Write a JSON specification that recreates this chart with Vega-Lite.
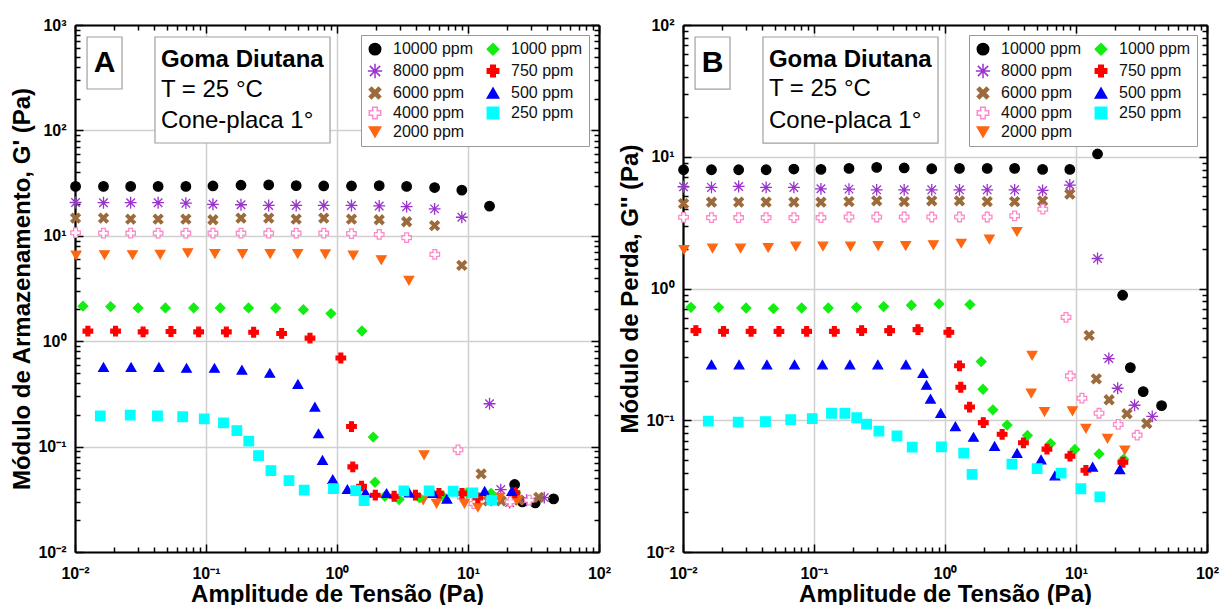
{
  "$schema": "https://vega.github.io/schema/vega-lite/v6.json",
  "background": "white",
  "padding": {"left": 10, "top": 17, "right": 5, "bottom": 0},
  "spacing": 7,
  "datasets": {
    "pts": [
      {"series":"10000 ppm","stress":0.0101,"Gp":29.4,"Gpp":7.97},
      {"series":"10000 ppm","stress":0.0165,"Gp":29.4,"Gpp":7.97},
      {"series":"10000 ppm","stress":0.0266,"Gp":29.4,"Gpp":7.97},
      {"series":"10000 ppm","stress":0.0431,"Gp":29.4,"Gpp":7.97},
      {"series":"10000 ppm","stress":0.0702,"Gp":29.4,"Gpp":8.07},
      {"series":"10000 ppm","stress":0.113,"Gp":29.7,"Gpp":8.02},
      {"series":"10000 ppm","stress":0.185,"Gp":30.2,"Gpp":8.16},
      {"series":"10000 ppm","stress":0.301,"Gp":30.4,"Gpp":8.30},
      {"series":"10000 ppm","stress":0.488,"Gp":29.9,"Gpp":8.22},
      {"series":"10000 ppm","stress":0.792,"Gp":29.7,"Gpp":8.11},
      {"series":"10000 ppm","stress":1.29,"Gp":29.7,"Gpp":8.16},
      {"series":"10000 ppm","stress":2.10,"Gp":29.9,"Gpp":8.16},
      {"series":"10000 ppm","stress":3.40,"Gp":29.4,"Gpp":8.16},
      {"series":"10000 ppm","stress":5.56,"Gp":28.7,"Gpp":8.02},
      {"series":"10000 ppm","stress":8.97,"Gp":27.1,"Gpp":8.02},
      {"series":"10000 ppm","stress":14.6,"Gp":19.1,"Gpp":10.5},
      {"series":"10000 ppm","stress":22.7,"Gp":0.0437,"Gpp":0.889},
      {"series":"10000 ppm","stress":26.0,"Gp":0.0299,"Gpp":0.251},
      {"series":"10000 ppm","stress":32.6,"Gp":0.0292,"Gpp":0.165},
      {"series":"10000 ppm","stress":45.0,"Gp":0.0319,"Gpp":0.129},
      {"series":"8000 ppm","stress":0.0101,"Gp":20.7,"Gpp":5.92},
      {"series":"8000 ppm","stress":0.0165,"Gp":20.6,"Gpp":5.85},
      {"series":"8000 ppm","stress":0.0266,"Gp":20.6,"Gpp":5.95},
      {"series":"8000 ppm","stress":0.0431,"Gp":20.6,"Gpp":5.85},
      {"series":"8000 ppm","stress":0.0702,"Gp":20.4,"Gpp":5.85},
      {"series":"8000 ppm","stress":0.113,"Gp":19.9,"Gpp":5.71},
      {"series":"8000 ppm","stress":0.185,"Gp":19.7,"Gpp":5.68},
      {"series":"8000 ppm","stress":0.301,"Gp":19.4,"Gpp":5.61},
      {"series":"8000 ppm","stress":0.488,"Gp":19.4,"Gpp":5.61},
      {"series":"8000 ppm","stress":0.792,"Gp":19.4,"Gpp":5.61},
      {"series":"8000 ppm","stress":1.29,"Gp":19.4,"Gpp":5.61},
      {"series":"8000 ppm","stress":2.10,"Gp":19.2,"Gpp":5.61},
      {"series":"8000 ppm","stress":3.40,"Gp":18.9,"Gpp":5.61},
      {"series":"8000 ppm","stress":5.56,"Gp":18.0,"Gpp":5.55},
      {"series":"8000 ppm","stress":8.97,"Gp":15.0,"Gpp":6.10},
      {"series":"8000 ppm","stress":14.6,"Gp":0.255,"Gpp":1.69},
      {"series":"8000 ppm","stress":17.8,"Gp":0.0391,"Gpp":0.294},
      {"series":"8000 ppm","stress":20.8,"Gp":0.0294,"Gpp":0.175},
      {"series":"8000 ppm","stress":28.0,"Gp":0.031,"Gpp":0.130},
      {"series":"8000 ppm","stress":38.2,"Gp":0.0328,"Gpp":0.107},
      {"series":"6000 ppm","stress":0.0101,"Gp":14.7,"Gpp":4.41},
      {"series":"6000 ppm","stress":0.0165,"Gp":14.7,"Gpp":4.52},
      {"series":"6000 ppm","stress":0.0266,"Gp":14.4,"Gpp":4.52},
      {"series":"6000 ppm","stress":0.0431,"Gp":14.4,"Gpp":4.52},
      {"series":"6000 ppm","stress":0.0702,"Gp":14.4,"Gpp":4.52},
      {"series":"6000 ppm","stress":0.113,"Gp":14.2,"Gpp":4.52},
      {"series":"6000 ppm","stress":0.185,"Gp":14.7,"Gpp":4.57},
      {"series":"6000 ppm","stress":0.301,"Gp":14.7,"Gpp":4.63},
      {"series":"6000 ppm","stress":0.488,"Gp":14.4,"Gpp":4.57},
      {"series":"6000 ppm","stress":0.792,"Gp":14.7,"Gpp":4.63},
      {"series":"6000 ppm","stress":1.29,"Gp":14.4,"Gpp":4.63},
      {"series":"6000 ppm","stress":2.10,"Gp":14.2,"Gpp":4.57},
      {"series":"6000 ppm","stress":3.40,"Gp":13.6,"Gpp":4.57},
      {"series":"6000 ppm","stress":5.56,"Gp":12.5,"Gpp":4.63},
      {"series":"6000 ppm","stress":8.97,"Gp":5.25,"Gpp":5.21},
      {"series":"6000 ppm","stress":12.6,"Gp":0.0551,"Gpp":0.441},
      {"series":"6000 ppm","stress":14.3,"Gp":0.0305,"Gpp":0.206},
      {"series":"6000 ppm","stress":17.9,"Gp":0.0305,"Gpp":0.143},
      {"series":"6000 ppm","stress":24.5,"Gp":0.031,"Gpp":0.112},
      {"series":"6000 ppm","stress":34.7,"Gp":0.033,"Gpp":0.0945},
      {"series":"4000 ppm","stress":0.0101,"Gp":10.7,"Gpp":3.47},
      {"series":"4000 ppm","stress":0.0165,"Gp":10.6,"Gpp":3.45},
      {"series":"4000 ppm","stress":0.0266,"Gp":10.6,"Gpp":3.45},
      {"series":"4000 ppm","stress":0.0431,"Gp":10.6,"Gpp":3.45},
      {"series":"4000 ppm","stress":0.0702,"Gp":10.6,"Gpp":3.45},
      {"series":"4000 ppm","stress":0.113,"Gp":10.6,"Gpp":3.45},
      {"series":"4000 ppm","stress":0.185,"Gp":10.6,"Gpp":3.49},
      {"series":"4000 ppm","stress":0.301,"Gp":10.6,"Gpp":3.49},
      {"series":"4000 ppm","stress":0.488,"Gp":10.6,"Gpp":3.49},
      {"series":"4000 ppm","stress":0.792,"Gp":10.6,"Gpp":3.49},
      {"series":"4000 ppm","stress":1.29,"Gp":10.5,"Gpp":3.49},
      {"series":"4000 ppm","stress":2.10,"Gp":10.3,"Gpp":3.49},
      {"series":"4000 ppm","stress":3.40,"Gp":9.6,"Gpp":3.56},
      {"series":"4000 ppm","stress":5.58,"Gp":6.66,"Gpp":4.00},
      {"series":"4000 ppm","stress":8.39,"Gp":0.0933,"Gpp":0.604},
      {"series":"4000 ppm","stress":9.05,"Gp":0.0333,"Gpp":0.217},
      {"series":"4000 ppm","stress":11.1,"Gp":0.0288,"Gpp":0.147},
      {"series":"4000 ppm","stress":15.0,"Gp":0.0315,"Gpp":0.113},
      {"series":"4000 ppm","stress":21.0,"Gp":0.030,"Gpp":0.0929},
      {"series":"4000 ppm","stress":29.3,"Gp":0.031,"Gpp":0.0771},
      {"series":"2000 ppm","stress":0.0102,"Gp":6.54,"Gpp":1.97},
      {"series":"2000 ppm","stress":0.0168,"Gp":6.59,"Gpp":2.02},
      {"series":"2000 ppm","stress":0.0275,"Gp":6.59,"Gpp":2.02},
      {"series":"2000 ppm","stress":0.0447,"Gp":6.65,"Gpp":2.04},
      {"series":"2000 ppm","stress":0.0726,"Gp":6.88,"Gpp":2.09},
      {"series":"2000 ppm","stress":0.117,"Gp":6.76,"Gpp":2.09},
      {"series":"2000 ppm","stress":0.190,"Gp":6.76,"Gpp":2.09},
      {"series":"2000 ppm","stress":0.309,"Gp":6.76,"Gpp":2.11},
      {"series":"2000 ppm","stress":0.501,"Gp":6.76,"Gpp":2.11},
      {"series":"2000 ppm","stress":0.815,"Gp":6.71,"Gpp":2.14},
      {"series":"2000 ppm","stress":1.33,"Gp":6.54,"Gpp":2.20},
      {"series":"2000 ppm","stress":2.18,"Gp":5.90,"Gpp":2.36},
      {"series":"2000 ppm","stress":3.54,"Gp":3.76,"Gpp":2.70},
      {"series":"2000 ppm","stress":4.62,"Gp":0.083,"Gpp":0.31},
      {"series":"2000 ppm","stress":4.55,"Gp":0.031,"Gpp":0.16},
      {"series":"2000 ppm","stress":5.75,"Gp":0.0288,"Gpp":0.116},
      {"series":"2000 ppm","stress":9.4,"Gp":0.0288,"Gpp":0.1175},
      {"series":"2000 ppm","stress":11.9,"Gp":0.0265,"Gpp":0.0866},
      {"series":"2000 ppm","stress":17.4,"Gp":0.0328,"Gpp":0.0727},
      {"series":"2000 ppm","stress":23.6,"Gp":0.031,"Gpp":0.0593},
      {"series":"1000 ppm","stress":0.0115,"Gp":2.15,"Gpp":0.720},
      {"series":"1000 ppm","stress":0.0187,"Gp":2.13,"Gpp":0.720},
      {"series":"1000 ppm","stress":0.0303,"Gp":2.07,"Gpp":0.711},
      {"series":"1000 ppm","stress":0.049,"Gp":2.07,"Gpp":0.704},
      {"series":"1000 ppm","stress":0.0805,"Gp":2.07,"Gpp":0.711},
      {"series":"1000 ppm","stress":0.1285,"Gp":2.07,"Gpp":0.711},
      {"series":"1000 ppm","stress":0.211,"Gp":2.07,"Gpp":0.720},
      {"series":"1000 ppm","stress":0.340,"Gp":2.06,"Gpp":0.729},
      {"series":"1000 ppm","stress":0.554,"Gp":1.99,"Gpp":0.746},
      {"series":"1000 ppm","stress":0.900,"Gp":1.83,"Gpp":0.764},
      {"series":"1000 ppm","stress":1.55,"Gp":1.25,"Gpp":0.755},
      {"series":"1000 ppm","stress":1.89,"Gp":0.123,"Gpp":0.279},
      {"series":"1000 ppm","stress":1.95,"Gp":0.0459,"Gpp":0.172},
      {"series":"1000 ppm","stress":2.32,"Gp":0.0338,"Gpp":0.120},
      {"series":"1000 ppm","stress":2.98,"Gp":0.0314,"Gpp":0.0919},
      {"series":"1000 ppm","stress":4.26,"Gp":0.0327,"Gpp":0.0766},
      {"series":"1000 ppm","stress":6.39,"Gp":0.034,"Gpp":0.0665},
      {"series":"1000 ppm","stress":9.8,"Gp":0.0364,"Gpp":0.0601},
      {"series":"1000 ppm","stress":15.0,"Gp":0.036,"Gpp":0.0555},
      {"series":"1000 ppm","stress":23.1,"Gp":0.0364,"Gpp":0.0506},
      {"series":"750 ppm","stress":0.01254,"Gp":1.247,"Gpp":0.479},
      {"series":"750 ppm","stress":0.0204,"Gp":1.247,"Gpp":0.473},
      {"series":"750 ppm","stress":0.0331,"Gp":1.226,"Gpp":0.473},
      {"series":"750 ppm","stress":0.054,"Gp":1.236,"Gpp":0.473},
      {"series":"750 ppm","stress":0.0879,"Gp":1.226,"Gpp":0.473},
      {"series":"750 ppm","stress":0.143,"Gp":1.226,"Gpp":0.473},
      {"series":"750 ppm","stress":0.231,"Gp":1.216,"Gpp":0.479},
      {"series":"750 ppm","stress":0.378,"Gp":1.185,"Gpp":0.479},
      {"series":"750 ppm","stress":0.622,"Gp":1.07,"Gpp":0.487},
      {"series":"750 ppm","stress":1.07,"Gp":0.693,"Gpp":0.465},
      {"series":"750 ppm","stress":1.29,"Gp":0.155,"Gpp":0.259},
      {"series":"750 ppm","stress":1.32,"Gp":0.0642,"Gpp":0.178},
      {"series":"750 ppm","stress":1.54,"Gp":0.0421,"Gpp":0.126},
      {"series":"750 ppm","stress":1.96,"Gp":0.0346,"Gpp":0.096},
      {"series":"750 ppm","stress":2.73,"Gp":0.0338,"Gpp":0.0782},
      {"series":"750 ppm","stress":3.97,"Gp":0.0346,"Gpp":0.0674},
      {"series":"750 ppm","stress":6.0,"Gp":0.036,"Gpp":0.0604},
      {"series":"750 ppm","stress":9.0,"Gp":0.036,"Gpp":0.0534},
      {"series":"750 ppm","stress":11.9,"Gp":0.0326,"Gpp":0.0417},
      {"series":"750 ppm","stress":22.8,"Gp":0.0364,"Gpp":0.048},
      {"series":"500 ppm","stress":0.0165,"Gp":0.566,"Gpp":0.264},
      {"series":"500 ppm","stress":0.0268,"Gp":0.566,"Gpp":0.264},
      {"series":"500 ppm","stress":0.0437,"Gp":0.566,"Gpp":0.264},
      {"series":"500 ppm","stress":0.071,"Gp":0.556,"Gpp":0.264},
      {"series":"500 ppm","stress":0.116,"Gp":0.556,"Gpp":0.264},
      {"series":"500 ppm","stress":0.188,"Gp":0.533,"Gpp":0.264},
      {"series":"500 ppm","stress":0.307,"Gp":0.498,"Gpp":0.264},
      {"series":"500 ppm","stress":0.503,"Gp":0.391,"Gpp":0.264},
      {"series":"500 ppm","stress":0.678,"Gp":0.238,"Gpp":0.227},
      {"series":"500 ppm","stress":0.723,"Gp":0.133,"Gpp":0.185},
      {"series":"500 ppm","stress":0.775,"Gp":0.0743,"Gpp":0.145},
      {"series":"500 ppm","stress":0.928,"Gp":0.0489,"Gpp":0.113},
      {"series":"500 ppm","stress":1.20,"Gp":0.0393,"Gpp":0.0897},
      {"series":"500 ppm","stress":1.65,"Gp":0.0364,"Gpp":0.0745},
      {"series":"500 ppm","stress":2.39,"Gp":0.036,"Gpp":0.0636},
      {"series":"500 ppm","stress":3.55,"Gp":0.0364,"Gpp":0.0563},
      {"series":"500 ppm","stress":5.41,"Gp":0.036,"Gpp":0.0502},
      {"series":"500 ppm","stress":6.9,"Gp":0.0319,"Gpp":0.0379},
      {"series":"500 ppm","stress":13.4,"Gp":0.0377,"Gpp":0.0442},
      {"series":"500 ppm","stress":21.6,"Gp":0.0377,"Gpp":0.0423},
      {"series":"250 ppm","stress":0.0156,"Gp":0.196,"Gpp":0.0985},
      {"series":"250 ppm","stress":0.0264,"Gp":0.199,"Gpp":0.0966},
      {"series":"250 ppm","stress":0.0426,"Gp":0.196,"Gpp":0.0977},
      {"series":"250 ppm","stress":0.0664,"Gp":0.192,"Gpp":0.101},
      {"series":"250 ppm","stress":0.097,"Gp":0.183,"Gpp":0.103},
      {"series":"250 ppm","stress":0.136,"Gp":0.168,"Gpp":0.113},
      {"series":"250 ppm","stress":0.172,"Gp":0.142,"Gpp":0.113},
      {"series":"250 ppm","stress":0.212,"Gp":0.1125,"Gpp":0.1045},
      {"series":"250 ppm","stress":0.252,"Gp":0.0822,"Gpp":0.0935},
      {"series":"250 ppm","stress":0.313,"Gp":0.0592,"Gpp":0.0828},
      {"series":"250 ppm","stress":0.430,"Gp":0.0476,"Gpp":0.0762},
      {"series":"250 ppm","stress":0.562,"Gp":0.0386,"Gpp":0.0625},
      {"series":"250 ppm","stress":0.94,"Gp":0.040,"Gpp":0.0628},
      {"series":"250 ppm","stress":1.39,"Gp":0.0383,"Gpp":0.0562},
      {"series":"250 ppm","stress":1.61,"Gp":0.0308,"Gpp":0.0388},
      {"series":"250 ppm","stress":3.24,"Gp":0.038,"Gpp":0.0464},
      {"series":"250 ppm","stress":5.05,"Gp":0.038,"Gpp":0.0429},
      {"series":"250 ppm","stress":7.7,"Gp":0.0377,"Gpp":0.0397},
      {"series":"250 ppm","stress":10.9,"Gp":0.0364,"Gpp":0.0302},
      {"series":"250 ppm","stress":15.2,"Gp":0.031,"Gpp":0.0262}
    ],
    "boxes": [
      {"panel":"A","x1":0.01236,"x2":0.02286,"y1":769,"y2":247},
      {"panel":"A","x1":0.0408,"x2":0.885,"y1":769,"y2":75.9},
      {"panel":"B","x1":0.01236,"x2":0.02286,"y1":81.1,"y2":32.6},
      {"panel":"B","x1":0.0408,"x2":0.885,"y1":81.1,"y2":12.7}
    ],
    "notes": [
      {"panel":"A","role":"letter","text":"A","x":0.0168,"y":436},
      {"panel":"A","role":"head","text":"Goma Diutana","x":0.0453,"y":466},
      {"panel":"A","role":"line","text":"T = 25 °C","x":0.0453,"y":244},
      {"panel":"A","role":"line","text":"Cone-placa 1°","x":0.0453,"y":123},
      {"panel":"B","role":"letter","text":"B","x":0.0168,"y":51.5},
      {"panel":"B","role":"head","text":"Goma Diutana","x":0.0453,"y":54.2},
      {"panel":"B","role":"line","text":"T = 25 °C","x":0.0453,"y":32.4},
      {"panel":"B","role":"line","text":"Cone-placa 1°","x":0.0453,"y":18.8}
    ]
  },
  "hconcat": [
    {
      "width": 524,
      "height": 527,
      "layer": [
        {
          "data": {"name": "boxes"},
          "transform": [{"filter": "datum.panel === 'A'"}],
          "mark": {"type": "rect", "fill": "white", "stroke": "#a0a0a0", "strokeWidth": 1.2},
          "encoding": {
            "x": {"field": "x1", "type": "quantitative", "scale": {"type": "log", "domain": [0.01, 100], "nice": false}, "axis": null},
            "x2": {"field": "x2"},
            "y": {"field": "y1", "type": "quantitative", "scale": {"type": "log", "domain": [0.01, 1000], "nice": false}, "axis": null},
            "y2": {"field": "y2"}
          }
        },
        {
          "data": {"name": "notes"},
          "transform": [{"filter": "datum.panel === 'A' && datum.role === 'letter'"}],
          "mark": {"type": "text", "font": "Liberation Sans", "fontWeight": "bold", "fontSize": 30, "align": "center", "baseline": "middle", "color": "black"},
          "encoding": {
            "x": {"field": "x", "type": "quantitative", "scale": {"type": "log", "domain": [0.01, 100], "nice": false}, "axis": null},
            "y": {"field": "y", "type": "quantitative", "scale": {"type": "log", "domain": [0.01, 1000], "nice": false}, "axis": null},
            "text": {"field": "text"}
          }
        },
        {
          "data": {"name": "notes"},
          "transform": [{"filter": "datum.panel === 'A' && datum.role === 'head'"}],
          "mark": {"type": "text", "font": "Liberation Sans", "fontWeight": "bold", "fontSize": 24, "align": "left", "baseline": "middle", "color": "black"},
          "encoding": {
            "x": {"field": "x", "type": "quantitative", "scale": {"type": "log", "domain": [0.01, 100], "nice": false}, "axis": null},
            "y": {"field": "y", "type": "quantitative", "scale": {"type": "log", "domain": [0.01, 1000], "nice": false}, "axis": null},
            "text": {"field": "text"}
          }
        },
        {
          "data": {"name": "notes"},
          "transform": [{"filter": "datum.panel === 'A' && datum.role === 'line'"}],
          "mark": {"type": "text", "font": "Liberation Sans", "fontWeight": "normal", "fontSize": 24, "align": "left", "baseline": "middle", "color": "black"},
          "encoding": {
            "x": {"field": "x", "type": "quantitative", "scale": {"type": "log", "domain": [0.01, 100], "nice": false}, "axis": null},
            "y": {"field": "y", "type": "quantitative", "scale": {"type": "log", "domain": [0.01, 1000], "nice": false}, "axis": null},
            "text": {"field": "text"}
          }
        },
        {
          "data": {"name": "pts"},
          "mark": {"type": "point", "filled": true, "size": 90, "strokeWidth": 1.3, "opacity": 1},
          "encoding": {
            "x": {"field": "stress", "type": "quantitative", "scale": {"type": "log", "domain": [0.01, 100], "nice": false},
              "axis": {"orient": "bottom", "title": "Amplitude de Tensão (Pa)", "values": [0.01, 0.1, 1, 10, 100], "labelExpr": "datum.value < 0.05 ? '10⁻²' : datum.value < 0.5 ? '10⁻¹' : datum.value < 5 ? '10⁰' : datum.value < 50 ? '10¹' : '10²'", "grid": true, "tickSize": -8, "labelPadding": 21, "titlePadding": 1, "labelFlush": false, "labelOverlap": false}},
            "y": {"field": "Gp", "type": "quantitative", "scale": {"type": "log", "domain": [0.01, 1000], "nice": false},
              "axis": {"orient": "left", "title": "Módulo de Armazenamento, G' (Pa)", "values": [0.01, 0.1, 1, 10, 100, 1000], "labelExpr": "datum.value < 0.05 ? '10⁻²' : datum.value < 0.5 ? '10⁻¹' : datum.value < 5 ? '10⁰' : datum.value < 50 ? '10¹' : datum.value < 500 ? '10²' : '10³'", "grid": true, "tickSize": -8, "labelPadding": 17, "titlePadding": 3, "labelFlush": false, "labelOverlap": false}},
            "shape": {"field": "series", "type": "nominal",
              "scale": {"domain": ["10000 ppm", "8000 ppm", "6000 ppm", "4000 ppm", "2000 ppm", "1000 ppm", "750 ppm", "500 ppm", "250 ppm"],
                "range": ["circle", "M-1.25,0L1.25,0M0,-1.25L0,1.25M-0.9,-0.9L0.9,0.9M-0.9,0.9L0.9,-0.9", "M0,-0.4L0.6,-1L1,-0.6L0.4,0L1,0.6L0.6,1L0,0.4L-0.6,1L-1,0.6L-0.4,0L-1,-0.6L-0.6,-1Z", "cross", "triangle-down", "diamond", "cross", "triangle-up", "square"]},
              "legend": {"title": null, "orient": "top-right", "offset": 10, "columns": 2, "symbolSize": 130, "symbolStrokeWidth": 1.5, "labelFont": "Liberation Sans", "labelFontSize": 16, "labelFontWeight": "normal", "labelColor": "#111111", "labelOffset": 10, "rowPadding": 2, "columnPadding": 10, "padding": 6, "strokeColor": "#999999", "fillColor": "white", "labelLimit": 300}},
            "fill": {"field": "series", "type": "nominal",
              "scale": {"domain": ["10000 ppm", "8000 ppm", "6000 ppm", "4000 ppm", "2000 ppm", "1000 ppm", "750 ppm", "500 ppm", "250 ppm"],
                "range": ["#000000", "#9933CC", "#9C6B3C", "#FFFFFF", "#FF6611", "#11EE11", "#FF0000", "#0000FF", "#00FFFF"]},
              "legend": {"title": null, "orient": "top-right", "offset": 10, "columns": 2, "symbolSize": 130, "symbolStrokeWidth": 1.5, "labelFont": "Liberation Sans", "labelFontSize": 16, "labelFontWeight": "normal", "labelColor": "#111111", "labelOffset": 10, "rowPadding": 2, "columnPadding": 10, "padding": 6, "strokeColor": "#999999", "fillColor": "white", "labelLimit": 300}},
            "stroke": {"field": "series", "type": "nominal",
              "scale": {"domain": ["10000 ppm", "8000 ppm", "6000 ppm", "4000 ppm", "2000 ppm", "1000 ppm", "750 ppm", "500 ppm", "250 ppm"],
                "range": ["#000000", "#9933CC", "#9C6B3C", "#FF88C8", "#FF6611", "#11EE11", "#FF0000", "#0000FF", "#00FFFF"]},
              "legend": {"title": null, "orient": "top-right", "offset": 10, "columns": 2, "symbolSize": 130, "symbolStrokeWidth": 1.5, "labelFont": "Liberation Sans", "labelFontSize": 16, "labelFontWeight": "normal", "labelColor": "#111111", "labelOffset": 10, "rowPadding": 2, "columnPadding": 10, "padding": 6, "strokeColor": "#999999", "fillColor": "white", "labelLimit": 300}}
          }
        },
        {
          "data": {"name": "pts"},
          "mark": {"type": "point", "opacity": 0},
          "encoding": {
            "x": {"field": "stress", "type": "quantitative", "scale": {"type": "log", "domain": [0.01, 100], "nice": false},
              "axis": {"orient": "top", "title": null, "values": [0.01, 0.1, 1, 10, 100], "labels": false, "grid": false, "tickSize": -8}},
            "y": {"field": "Gp", "type": "quantitative", "scale": {"type": "log", "domain": [0.01, 1000], "nice": false},
              "axis": {"orient": "right", "title": null, "values": [0.01, 0.1, 1, 10, 100, 1000], "labels": false, "grid": false, "tickSize": -8}}
          }
        },
        {
          "data": {"name": "pts"},
          "mark": {"type": "point", "opacity": 0},
          "encoding": {
            "x": {"field": "stress", "type": "quantitative", "scale": {"type": "log", "domain": [0.01, 100], "nice": false},
              "axis": {"orient": "bottom", "title": null, "values": [0.02,0.03,0.04,0.05,0.06,0.07,0.08,0.09,0.2,0.3,0.4,0.5,0.6,0.7,0.8,0.9,2,3,4,5,6,7,8,9,20,30,40,50,60,70,80,90], "labels": false, "grid": false, "domain": false, "tickSize": -5}},
            "y": {"field": "Gp", "type": "quantitative", "scale": {"type": "log", "domain": [0.01, 1000], "nice": false},
              "axis": {"orient": "left", "title": null, "values": [0.02,0.03,0.04,0.05,0.06,0.07,0.08,0.09,0.2,0.3,0.4,0.5,0.6,0.7,0.8,0.9,2,3,4,5,6,7,8,9,20,30,40,50,60,70,80,90,200,300,400,500,600,700,800,900], "labels": false, "grid": false, "domain": false, "tickSize": -5}}
          }
        },
        {
          "data": {"name": "pts"},
          "mark": {"type": "point", "opacity": 0},
          "encoding": {
            "x": {"field": "stress", "type": "quantitative", "scale": {"type": "log", "domain": [0.01, 100], "nice": false},
              "axis": {"orient": "top", "title": null, "values": [0.02,0.03,0.04,0.05,0.06,0.07,0.08,0.09,0.2,0.3,0.4,0.5,0.6,0.7,0.8,0.9,2,3,4,5,6,7,8,9,20,30,40,50,60,70,80,90], "labels": false, "grid": false, "domain": false, "tickSize": -5}},
            "y": {"field": "Gp", "type": "quantitative", "scale": {"type": "log", "domain": [0.01, 1000], "nice": false},
              "axis": {"orient": "right", "title": null, "values": [0.02,0.03,0.04,0.05,0.06,0.07,0.08,0.09,0.2,0.3,0.4,0.5,0.6,0.7,0.8,0.9,2,3,4,5,6,7,8,9,20,30,40,50,60,70,80,90,200,300,400,500,600,700,800,900], "labels": false, "grid": false, "domain": false, "tickSize": -5}}
          }
        }
      ],
      "resolve": {"axis": {"x": "independent", "y": "independent"}}
    },
    {
      "width": 524,
      "height": 527,
      "layer": [
        {
          "data": {"name": "boxes"},
          "transform": [{"filter": "datum.panel === 'B'"}],
          "mark": {"type": "rect", "fill": "white", "stroke": "#a0a0a0", "strokeWidth": 1.2},
          "encoding": {
            "x": {"field": "x1", "type": "quantitative", "scale": {"type": "log", "domain": [0.01, 100], "nice": false}, "axis": null},
            "x2": {"field": "x2"},
            "y": {"field": "y1", "type": "quantitative", "scale": {"type": "log", "domain": [0.01, 100], "nice": false}, "axis": null},
            "y2": {"field": "y2"}
          }
        },
        {
          "data": {"name": "notes"},
          "transform": [{"filter": "datum.panel === 'B' && datum.role === 'letter'"}],
          "mark": {"type": "text", "font": "Liberation Sans", "fontWeight": "bold", "fontSize": 30, "align": "center", "baseline": "middle", "color": "black"},
          "encoding": {
            "x": {"field": "x", "type": "quantitative", "scale": {"type": "log", "domain": [0.01, 100], "nice": false}, "axis": null},
            "y": {"field": "y", "type": "quantitative", "scale": {"type": "log", "domain": [0.01, 100], "nice": false}, "axis": null},
            "text": {"field": "text"}
          }
        },
        {
          "data": {"name": "notes"},
          "transform": [{"filter": "datum.panel === 'B' && datum.role === 'head'"}],
          "mark": {"type": "text", "font": "Liberation Sans", "fontWeight": "bold", "fontSize": 24, "align": "left", "baseline": "middle", "color": "black"},
          "encoding": {
            "x": {"field": "x", "type": "quantitative", "scale": {"type": "log", "domain": [0.01, 100], "nice": false}, "axis": null},
            "y": {"field": "y", "type": "quantitative", "scale": {"type": "log", "domain": [0.01, 100], "nice": false}, "axis": null},
            "text": {"field": "text"}
          }
        },
        {
          "data": {"name": "notes"},
          "transform": [{"filter": "datum.panel === 'B' && datum.role === 'line'"}],
          "mark": {"type": "text", "font": "Liberation Sans", "fontWeight": "normal", "fontSize": 24, "align": "left", "baseline": "middle", "color": "black"},
          "encoding": {
            "x": {"field": "x", "type": "quantitative", "scale": {"type": "log", "domain": [0.01, 100], "nice": false}, "axis": null},
            "y": {"field": "y", "type": "quantitative", "scale": {"type": "log", "domain": [0.01, 100], "nice": false}, "axis": null},
            "text": {"field": "text"}
          }
        },
        {
          "data": {"name": "pts"},
          "mark": {"type": "point", "filled": true, "size": 90, "strokeWidth": 1.3, "opacity": 1},
          "encoding": {
            "x": {"field": "stress", "type": "quantitative", "scale": {"type": "log", "domain": [0.01, 100], "nice": false},
              "axis": {"orient": "bottom", "title": "Amplitude de Tensão (Pa)", "values": [0.01, 0.1, 1, 10, 100], "labelExpr": "datum.value < 0.05 ? '10⁻²' : datum.value < 0.5 ? '10⁻¹' : datum.value < 5 ? '10⁰' : datum.value < 50 ? '10¹' : '10²'", "grid": true, "tickSize": -8, "labelPadding": 21, "titlePadding": 1, "labelFlush": false, "labelOverlap": false}},
            "y": {"field": "Gpp", "type": "quantitative", "scale": {"type": "log", "domain": [0.01, 100], "nice": false},
              "axis": {"orient": "left", "title": "Módulo de Perda, G'' (Pa)", "values": [0.01, 0.1, 1, 10, 100], "labelExpr": "datum.value < 0.05 ? '10⁻²' : datum.value < 0.5 ? '10⁻¹' : datum.value < 5 ? '10⁰' : datum.value < 50 ? '10¹' : '10²'", "grid": true, "tickSize": -8, "labelPadding": 17, "titlePadding": 3, "labelFlush": false, "labelOverlap": false}},
            "shape": {"field": "series", "type": "nominal",
              "scale": {"domain": ["10000 ppm", "8000 ppm", "6000 ppm", "4000 ppm", "2000 ppm", "1000 ppm", "750 ppm", "500 ppm", "250 ppm"],
                "range": ["circle", "M-1.25,0L1.25,0M0,-1.25L0,1.25M-0.9,-0.9L0.9,0.9M-0.9,0.9L0.9,-0.9", "M0,-0.4L0.6,-1L1,-0.6L0.4,0L1,0.6L0.6,1L0,0.4L-0.6,1L-1,0.6L-0.4,0L-1,-0.6L-0.6,-1Z", "cross", "triangle-down", "diamond", "cross", "triangle-up", "square"]},
              "legend": {"title": null, "orient": "top-right", "offset": 10, "columns": 2, "symbolSize": 130, "symbolStrokeWidth": 1.5, "labelFont": "Liberation Sans", "labelFontSize": 16, "labelFontWeight": "normal", "labelColor": "#111111", "labelOffset": 10, "rowPadding": 2, "columnPadding": 10, "padding": 6, "strokeColor": "#999999", "fillColor": "white", "labelLimit": 300}},
            "fill": {"field": "series", "type": "nominal",
              "scale": {"domain": ["10000 ppm", "8000 ppm", "6000 ppm", "4000 ppm", "2000 ppm", "1000 ppm", "750 ppm", "500 ppm", "250 ppm"],
                "range": ["#000000", "#9933CC", "#9C6B3C", "#FFFFFF", "#FF6611", "#11EE11", "#FF0000", "#0000FF", "#00FFFF"]},
              "legend": {"title": null, "orient": "top-right", "offset": 10, "columns": 2, "symbolSize": 130, "symbolStrokeWidth": 1.5, "labelFont": "Liberation Sans", "labelFontSize": 16, "labelFontWeight": "normal", "labelColor": "#111111", "labelOffset": 10, "rowPadding": 2, "columnPadding": 10, "padding": 6, "strokeColor": "#999999", "fillColor": "white", "labelLimit": 300}},
            "stroke": {"field": "series", "type": "nominal",
              "scale": {"domain": ["10000 ppm", "8000 ppm", "6000 ppm", "4000 ppm", "2000 ppm", "1000 ppm", "750 ppm", "500 ppm", "250 ppm"],
                "range": ["#000000", "#9933CC", "#9C6B3C", "#FF88C8", "#FF6611", "#11EE11", "#FF0000", "#0000FF", "#00FFFF"]},
              "legend": {"title": null, "orient": "top-right", "offset": 10, "columns": 2, "symbolSize": 130, "symbolStrokeWidth": 1.5, "labelFont": "Liberation Sans", "labelFontSize": 16, "labelFontWeight": "normal", "labelColor": "#111111", "labelOffset": 10, "rowPadding": 2, "columnPadding": 10, "padding": 6, "strokeColor": "#999999", "fillColor": "white", "labelLimit": 300}}
          }
        },
        {
          "data": {"name": "pts"},
          "mark": {"type": "point", "opacity": 0},
          "encoding": {
            "x": {"field": "stress", "type": "quantitative", "scale": {"type": "log", "domain": [0.01, 100], "nice": false},
              "axis": {"orient": "top", "title": null, "values": [0.01, 0.1, 1, 10, 100], "labels": false, "grid": false, "tickSize": -8}},
            "y": {"field": "Gpp", "type": "quantitative", "scale": {"type": "log", "domain": [0.01, 100], "nice": false},
              "axis": {"orient": "right", "title": null, "values": [0.01, 0.1, 1, 10, 100], "labels": false, "grid": false, "tickSize": -8}}
          }
        },
        {
          "data": {"name": "pts"},
          "mark": {"type": "point", "opacity": 0},
          "encoding": {
            "x": {"field": "stress", "type": "quantitative", "scale": {"type": "log", "domain": [0.01, 100], "nice": false},
              "axis": {"orient": "bottom", "title": null, "values": [0.02,0.03,0.04,0.05,0.06,0.07,0.08,0.09,0.2,0.3,0.4,0.5,0.6,0.7,0.8,0.9,2,3,4,5,6,7,8,9,20,30,40,50,60,70,80,90], "labels": false, "grid": false, "domain": false, "tickSize": -5}},
            "y": {"field": "Gpp", "type": "quantitative", "scale": {"type": "log", "domain": [0.01, 100], "nice": false},
              "axis": {"orient": "left", "title": null, "values": [0.02,0.03,0.04,0.05,0.06,0.07,0.08,0.09,0.2,0.3,0.4,0.5,0.6,0.7,0.8,0.9,2,3,4,5,6,7,8,9,20,30,40,50,60,70,80,90], "labels": false, "grid": false, "domain": false, "tickSize": -5}}
          }
        },
        {
          "data": {"name": "pts"},
          "mark": {"type": "point", "opacity": 0},
          "encoding": {
            "x": {"field": "stress", "type": "quantitative", "scale": {"type": "log", "domain": [0.01, 100], "nice": false},
              "axis": {"orient": "top", "title": null, "values": [0.02,0.03,0.04,0.05,0.06,0.07,0.08,0.09,0.2,0.3,0.4,0.5,0.6,0.7,0.8,0.9,2,3,4,5,6,7,8,9,20,30,40,50,60,70,80,90], "labels": false, "grid": false, "domain": false, "tickSize": -5}},
            "y": {"field": "Gpp", "type": "quantitative", "scale": {"type": "log", "domain": [0.01, 100], "nice": false},
              "axis": {"orient": "right", "title": null, "values": [0.02,0.03,0.04,0.05,0.06,0.07,0.08,0.09,0.2,0.3,0.4,0.5,0.6,0.7,0.8,0.9,2,3,4,5,6,7,8,9,20,30,40,50,60,70,80,90], "labels": false, "grid": false, "domain": false, "tickSize": -5}}
          }
        }
      ],
      "resolve": {"axis": {"x": "independent", "y": "independent"}}
    }
  ],
  "resolve": {
    "scale": {"x": "independent", "y": "independent", "fill": "independent", "stroke": "independent", "shape": "independent"},
    "legend": {"fill": "independent", "stroke": "independent", "shape": "independent"}
  },
  "config": {
    "font": "Liberation Sans",
    "view": {"stroke": null},
    "axis": {
      "domainColor": "black", "domainWidth": 2.2,
      "tickColor": "black", "tickWidth": 1.5,
      "gridColor": "#d0d0d0", "gridWidth": 1.5,
      "labelFont": "Liberation Sans", "labelFontSize": 16, "labelFontWeight": "bold", "labelColor": "black",
      "titleFont": "Liberation Sans", "titleFontSize": 24, "titleFontWeight": "bold", "titleColor": "black"
    }
  }
}
